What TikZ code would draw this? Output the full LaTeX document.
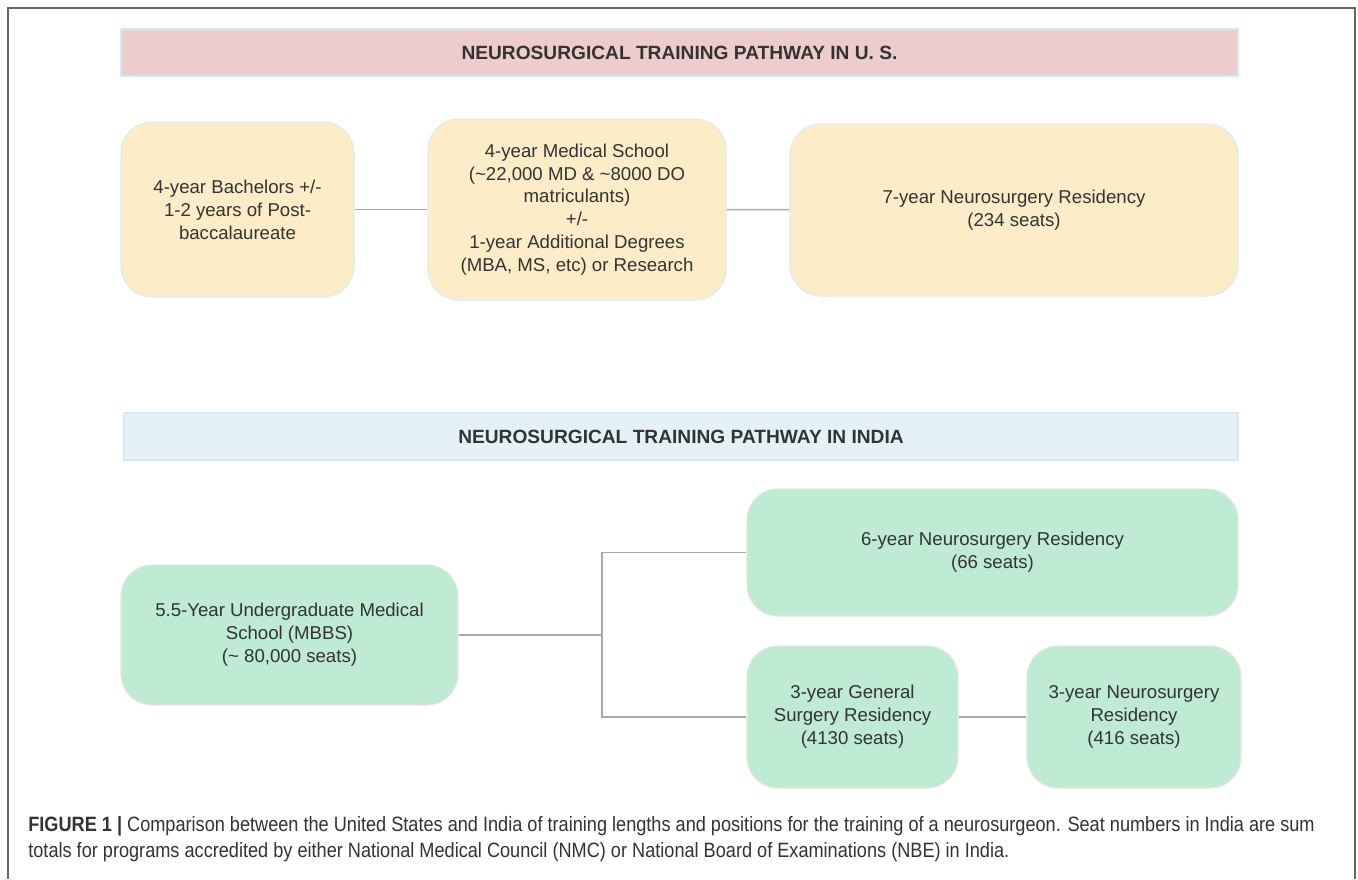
\documentclass[tikz,border=0pt]{standalone}
\usepackage{fontspec}
\setmainfont{Liberation Sans}
\newfontfamily\capfont[FakeStretch=0.875]{Liberation Sans}
\begin{document}
\begin{tikzpicture}[x=0.02cm,y=-0.02cm]
    \definecolor{inkgray}{HTML}{333333}
    \definecolor{usband}{HTML}{ECCDCB}
    \definecolor{inband}{HTML}{E4F2F7}
    \definecolor{bandedge}{HTML}{D3EAF5}
    \definecolor{usfill}{HTML}{FCEDC8}
    \definecolor{usedge}{HTML}{DCEBF2}
    \definecolor{infill}{HTML}{BFEAD3}
    \definecolor{inedge}{HTML}{EAE5DA}
    \definecolor{linkgray}{HTML}{A9A9A9}
    \tikzstyle{band}= [draw=bandedge, line width=0.6pt, text=inkgray, font=\fontsize{10.9pt}{13pt}\selectfont\bfseries]
    \tikzstyle{stageUS}= [draw=usedge, fill=usfill, line width=0.6pt, rounded corners=0.62cm, align=center, text=inkgray, font=\fontsize{10.6pt}{13pt}\selectfont]
    \tikzstyle{stageIN}= [stageUS, draw=inedge, fill=infill]
    \tikzstyle{link}= [draw=linkgray, line width=0.85pt]
  \def\px{0.02cm}

  \useasboundingbox (0,0) rectangle (1358,879);
  \draw[color=black!60, line width=1.1pt] (8,879) -- (8,8) -- (1355,8) -- (1355,879);

  % U. S. pathway
  \node[band, fill=usband, minimum width=1117*\px, minimum height=47*\px] (usband) at (679.5,52.5)
    {NEUROSURGICAL TRAINING PATHWAY IN U. S.};
  \node[stageUS, minimum width=233*\px, minimum height=175*\px] (bach) at (237.5,209.5)
    {4-year Bachelors +/-\\1-2 years of Post-\\baccalaureate};
  \node[stageUS, minimum width=298*\px, minimum height=181*\px] (med) at (577,209.5)
    {4-year Medical School\\(\textasciitilde22,000 MD \& \textasciitilde8000 DO\\matriculants)\\+/-\\1-year Additional Degrees\\(MBA, MS, etc) or Research};
  \node[stageUS, minimum width=448*\px, minimum height=172*\px] (res7) at (1014,210)
    {7-year Neurosurgery Residency\\(234 seats)};

  % India pathway
  \node[band, fill=inband, minimum width=1114*\px, minimum height=47*\px] (inband) at (681,436.5)
    {NEUROSURGICAL TRAINING PATHWAY IN INDIA};
  \node[stageIN, minimum width=337*\px, minimum height=140*\px] (mbbs) at (289.5,635)
    {5.5-Year Undergraduate Medical\\School (MBBS)\\(\textasciitilde{} 80,000 seats)};
  \node[stageIN, minimum width=491*\px, minimum height=127*\px] (res6) at (992.5,552.5)
    {6-year Neurosurgery Residency\\(66 seats)};
  \node[stageIN, minimum width=211*\px, minimum height=142*\px] (gen) at (852.5,717)
    {3-year General\\Surgery Residency\\(4130 seats)};
  \node[stageIN, minimum width=214*\px, minimum height=142*\px] (nsr3) at (1134,717)
    {3-year Neurosurgery\\Residency\\(416 seats)};

  \foreach \a/\b in {bach/med,med/res7,gen/nsr3}
    \draw[link] (\a) -- (\b);
  \coordinate (fork) at (602,635);
  \draw[link] (mbbs) -- (fork);
  \draw[link] (res6.west) -| (fork) |- (gen.west);

  % caption
  \node[anchor=west, align=left, text=inkgray, inner sep=0pt,
        font=\capfont\fontsize{11.8pt}{14.7pt}\selectfont] (caption) at (28,839)
    {\textbf{FIGURE 1 |} Comparison between the United States and India of training lengths and positions for the training of a neurosurgeon. Seat numbers in India are sum\\
     totals for programs accredited by either National Medical Council (NMC) or National Board of Examinations (NBE) in India.};
\end{tikzpicture}
\end{document}
